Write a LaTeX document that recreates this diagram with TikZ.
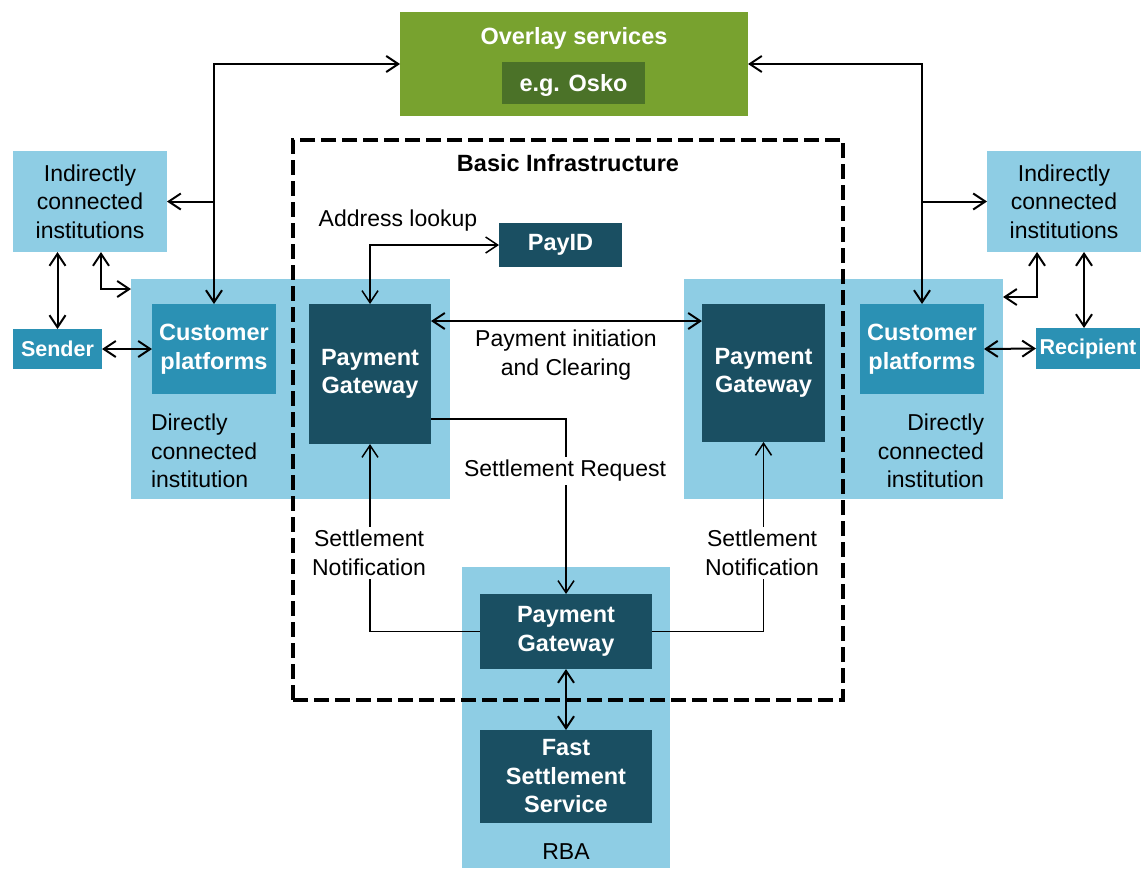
\documentclass[tikz,border=0pt]{standalone}
\usepackage{fontspec}
\setmainfont{Liberation Sans}
\usetikzlibrary{arrows.meta}
\definecolor{rbalight}{RGB}{142,205,228}
\definecolor{rbamid}{RGB}{43,145,180}
\definecolor{rbadark}{RGB}{26,79,98}
\definecolor{overlaygreen}{RGB}{120,162,47}
\definecolor{oskogreen}{RGB}{75,114,40}
\begin{document}
\begin{tikzpicture}[x=1pt, y=-1pt,
  every node/.style={font=\fontsize{23}{28.5}\selectfont, inner sep=0pt, outer sep=0pt},
  boldtext/.style={font=\fontsize{23.5}{28.5}\selectfont\bfseries},
  lightbox/.style={fill=rbalight, align=center},
  midbox/.style={fill=rbamid, text=white, boldtext, align=center},
  darkbox/.style={fill=rbadark, text=white, boldtext, align=center},
  link/.style={line width=2pt, {Straight Barb[length=12pt, width=16pt]}-{Straight Barb[length=12pt, width=16pt]}},
  onelink/.style={line width=2pt, -{Straight Barb[length=12pt, width=16pt]}},
  flow/.style={line width=1.5pt, -{Straight Barb[length=12pt, width=16pt]}},
  flowlink/.style={line width=1.5pt, {Straight Barb[length=12pt, width=16pt]}-{Straight Barb[length=12pt, width=16pt]}},
  flowlabel/.style={fill=white, align=center, inner sep=3pt}]
  \useasboundingbox (0,0) rectangle (1142,868);
  % background boxes
  \node[fill=overlaygreen, minimum width=348pt, minimum height=104pt] (overlay) at (574,64) {};
  \node[lightbox, minimum width=319pt, minimum height=220pt] (dciL) at (290.5,389) {};
  \node[lightbox, minimum width=319pt, minimum height=220pt] (dciR) at (843.5,389) {};
  \node[lightbox, minimum width=208pt, minimum height=301pt] (rba) at (566,717.5) {};
  \node[draw, line width=4pt, dash pattern=on 15pt off 6pt, minimum width=550pt, minimum height=560pt] (infra) at (568,420) {};
  % texts on the background boxes
  \node[boldtext, text=white] (ovtitle) at (574,38) {Overlay services};
  \node[fill=oskogreen, text=white, boldtext, minimum width=143pt, minimum height=42pt, text depth=0pt] (osko) at (573.5,83) {e.g. Osko};
  \node[boldtext] (infratitle) at (568,163) {Basic Infrastructure};
  \node[align=left, anchor=west] (dciLtext) at (151,451) {Directly\\connected\\institution};
  \node[align=right, anchor=east] (dciRtext) at (984,451) {Directly\\connected\\institution};
  \node (rbatext) at (566,852) {RBA};
  % participants
  \node[lightbox, minimum width=154pt, minimum height=101pt] (indL) at (90,201.5) {Indirectly\\connected\\institutions};
  \node[lightbox, minimum width=154pt, minimum height=101pt] (indR) at (1064,201.5) {Indirectly\\connected\\institutions};
  \node[midbox, minimum width=89pt, minimum height=40pt, font=\fontsize{21.5}{26}\selectfont\bfseries] (sender) at (57.5,349) {Sender};
  \node[midbox, minimum width=104pt, minimum height=41pt, font=\fontsize{21.5}{26}\selectfont\bfseries] (recip) at (1088,348.5) {Recipient};
  \node[midbox, minimum width=124pt, minimum height=90pt] (cpL) at (214,349) {Customer\\platforms};
  \node[midbox, minimum width=124pt, minimum height=90pt] (cpR) at (922,349) {Customer\\platforms};
  \node[darkbox, minimum width=122pt, minimum height=140pt] (pgL) at (370,374) {Payment\\Gateway};
  \node[darkbox, minimum width=123pt, minimum height=138pt] (pgR) at (763.5,373) {Payment\\Gateway};
  \node[darkbox, minimum width=123pt, minimum height=44pt] (payid) at (560.5,245) {PayID};
  \node[darkbox, minimum width=172pt, minimum height=75pt] (pgB) at (566,631.5) {Payment\\Gateway};
  \node[darkbox, minimum width=172pt, minimum height=93pt] (fss) at (566,776.5) {Fast\\Settlement\\Service};
  % connectors
  \draw[link] (cpL.north) |- (overlay.west);
  \draw[onelink] (cpL.north |- indL.east) -- (indL.east);
  \draw[link] (cpR.north) |- (overlay.east);
  \draw[onelink] (cpR.north |- indR.west) -- (indR.west);
  \draw[link] (sender.north |- indL.south) -- (sender.north);
  \draw[link] ([xshift=11pt]indL.south) |- ([yshift=-10pt]dciL.north west);
  \draw[link] ([xshift=-27pt]indR.south) |- ([yshift=-18pt]dciR.north east);
  \draw[link] ([xshift=20pt]indR.south) -- ([xshift=20pt]indR.south |- recip.north);
  \draw[link] (sender.east) -- (cpL.west);
  \draw[link] (cpR.east) -- (recip.west);
  \draw[flowlink] (pgL.north) |- (payid.west);
  \draw[link] ([yshift=-17pt]pgL.north east) -- ([yshift=-17pt]pgL.north east -| pgR.west);
  \draw[flow] ([yshift=-115pt]pgL.north east) -| (pgB.north);
  \draw[flow] (pgB.west) -| (pgL.south);
  \draw[flow] (pgB.east) -| (pgR.south);
  \draw[link] (pgB.south) -- (fss.north);
  % connector labels
  \node (lookup) at (398,221) {Address lookup};
  \node[align=center] (clearing) at (566,355) {Payment initiation\\and Clearing};
  \node[flowlabel] (request) at (565,471) {Settlement Request};
  \node[flowlabel] (notifyL) at (369,553) {Settlement\\Notification};
  \node[flowlabel] (notifyR) at (762,553) {Settlement\\Notification};
\end{tikzpicture}
\end{document}
